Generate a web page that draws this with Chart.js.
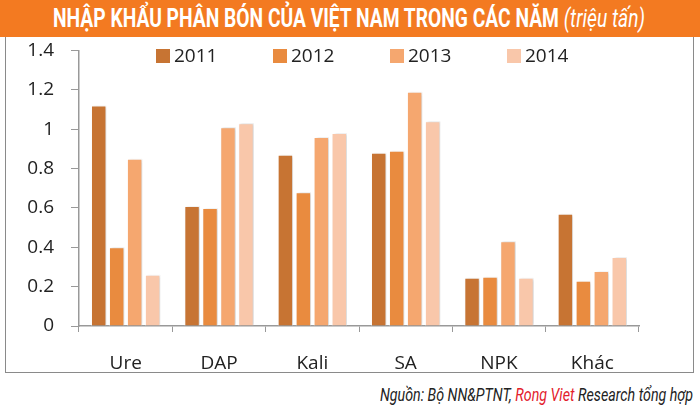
<!DOCTYPE html>
<html>
<head>
<meta charset="utf-8">
<script src="https://cdn.jsdelivr.net/npm/chart.js@4.4.0/dist/chart.umd.min.js"></script>
<style>
  html, body { margin: 0; padding: 0; background: #fff; }
  #page { position: relative; width: 700px; height: 420px; overflow: hidden; background: #fff; }
  #title { position: absolute; left: 0; top: 0; width: 700px; height: 37px; background: #f37a21; z-index: 2; }
  #titleText { position: absolute; left: 53px; top: 4px; white-space: nowrap; color: #fff;
    font-family: "Roboto", "Liberation Sans", sans-serif; font-size: 25px; line-height: 30px;
    transform-origin: 0 0; }
  #titleText b { font-weight: 700; }
  #titleText i { font-weight: 400; font-style: italic; }
  #box { position: absolute; left: 5px; top: 37px; width: 687px; height: 335px;
    border-left: 1.5px solid #8a8a8a; border-right: 1.5px solid #8a8a8a; border-bottom: 1.5px solid #8a8a8a; }
  #wrap { position: absolute; left: 0; top: 22px; width: 700px; height: 351px; }
  #footer { position: absolute; top: 383px; left: 0; white-space: nowrap; color: #222;
    font-family: "Roboto", "Liberation Sans", sans-serif; font-style: italic; font-size: 19px; line-height: 24px;
    transform-origin: 0 0; }
  #footer .red { color: #e3202b; }
</style>
</head>
<body>
<div id="page">
  <div id="box"></div>
  <div id="wrap"><canvas id="c" width="700" height="351"></canvas></div>
  <div id="title"><span id="titleText"><b>NHẬP KHẨU PHÂN BÓN CỦA VIỆT NAM TRONG CÁC NĂM</b> <i>(triệu tấn)</i></span></div>
  <div id="footer">Nguồn: Bộ NN&amp;PTNT, <span class="red">Rong Viet</span> Research tổng hợp</div>
</div>
<script>
const categories = ["Ure", "DAP", "Kali", "SA", "NPK", "Khác"];
const seriesNames = ["2011", "2012", "2013", "2014"];
const values2011 = [1.12, 0.61, 0.87, 0.88, 0.245, 0.57];
const values2012 = [0.40, 0.60, 0.68, 0.89, 0.25, 0.23];
const values2013 = [0.85, 1.01, 0.96, 1.19, 0.43, 0.28];
const values2014 = [0.26, 1.03, 0.98, 1.04, 0.245, 0.35];
const seriesColors = ["#c77433", "#e98b3f", "#f5a76f", "#f9c7aa"];
const yTicks = [0, 0.2, 0.4, 0.6, 0.8, 1, 1.2, 1.4];

function fitWidth(el, w) {
  const r = el.getBoundingClientRect().width;
  el.style.transform = "scaleX(" + (w / r) + ")";
}
fitWidth(document.getElementById("titleText"), 592);
const footer = document.getElementById("footer");
const fw = footer.getBoundingClientRect().width;
footer.style.transform = "scaleX(" + (313 / fw) + ")";
footer.style.left = (693 - 313) + "px";

const allValues = [values2011, values2012, values2013, values2014];
const FONT = "'Open Sans', 'DejaVu Sans', sans-serif";

const legendPlugin = {
  id: "inLegend",
  afterDraw(chart) {
    const ctx = chart.ctx;
    ctx.save();
    ctx.font = "19px " + FONT;
    ctx.textBaseline = "middle";
    ctx.textAlign = "left";
    chart.data.datasets.forEach((ds, i) => {
      const x = 156 + i * 117;
      const y = 34;
      ctx.fillStyle = ds.backgroundColor;
      ctx.fillRect(x, y - 7, 14, 14);
      ctx.fillStyle = "#222";
      ctx.fillText(ds.label, x + 18, y + 1);
    });
    ctx.restore();
  }
};

const shadowPlugin = {
  id: "barShadow",
  beforeDatasetsDraw(chart) {
    const ctx = chart.ctx;
    ctx.save();
    ctx.shadowColor = "rgba(0,0,0,0.18)";
    ctx.shadowBlur = 3;
    ctx.shadowOffsetX = 2;
    ctx.shadowOffsetY = 0;
  },
  afterDatasetsDraw(chart) {
    chart.ctx.restore();
  }
};

new Chart(document.getElementById("c"), {
  type: "bar",
  data: {
    labels: categories,
    datasets: seriesNames.map((n, i) => ({
      label: n,
      data: allValues[i],
      backgroundColor: seriesColors[i],
      borderColor: "#ffffff",
      borderWidth: 1,
      categoryPercentage: 0.77,
      barPercentage: 0.86
    }))
  },
  options: {
    responsive: false,
    animation: false,
    devicePixelRatio: 1,
    layout: { padding: { left: 0, right: 61, top: 0, bottom: 0 } },
    plugins: { legend: { display: false }, tooltip: { enabled: false } },
    scales: {
      x: {
        grid: { display: true, drawOnChartArea: false, drawTicks: true, tickLength: 6, color: "#999", offset: true },
        border: { display: true, color: "#999", width: 1.5 },
        ticks: { color: "#222", font: { family: FONT, size: 19 }, padding: 20 },
        afterFit(scale) { scale.height = 47; }
      },
      y: {
        min: 0, max: 1.4,
        afterBuildTicks(scale) { scale.ticks = yTicks.map(v => ({ value: v })); },
        grid: { display: true, drawOnChartArea: false, drawTicks: true, tickLength: 8, color: "#999" },
        border: { display: true, color: "#999", width: 1.5 },
        ticks: { color: "#222", font: { family: FONT, size: 19 }, padding: 17,
          callback: v => String(Math.round(v * 10) / 10) },
        afterFit(scale) { scale.width = 79; }
      }
    }
  },
  plugins: [legendPlugin, shadowPlugin]
});
</script>
</body>
</html>
